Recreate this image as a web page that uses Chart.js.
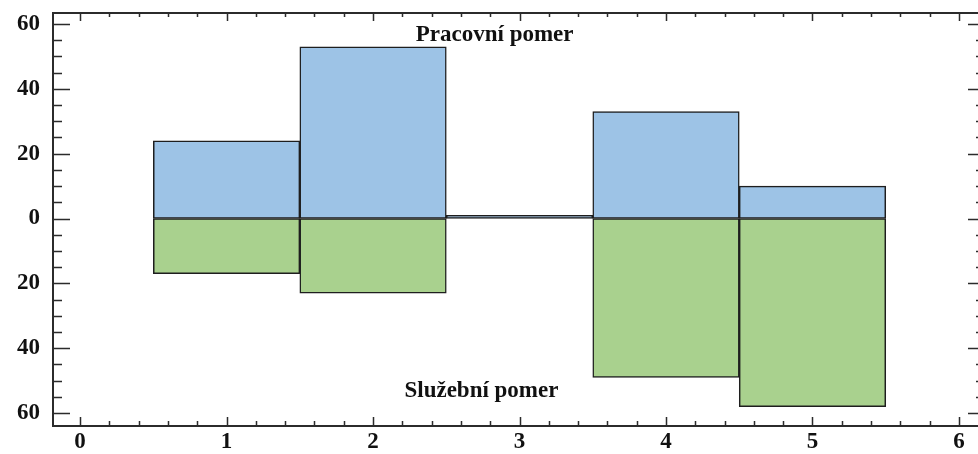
<!DOCTYPE html>
<html>
<head>
<meta charset="utf-8">
<script src="https://cdn.jsdelivr.net/npm/chart.js@4.4.1/dist/chart.umd.min.js"></script>
<style>
  html, body { margin: 0; padding: 0; background: #fff; }
  #wrap { width: 978px; height: 454px; position: relative; }
</style>
</head>
<body>
<div id="wrap"><canvas id="histChart"></canvas></div>
<script>
// categories on the x axis (bar centres)
const categories = [1, 2, 3, 4, 5];
// upper series (positive)
const pracovni = [24, 53, 1, 33, 10];
// lower series (drawn below zero, labelled as absolute values)
const sluzebni = [17, 23, 0, 49, 58];
const xTicks = [0, 1, 2, 3, 4, 5, 6];
const yTicks = [-60, -40, -20, 0, 20, 40, 60];

const serif = '"Liberation Serif", "DejaVu Serif", serif';
const frameColor = '#2b2b2b';

// inward tick marks + top frame line, like the original plotting tool
const framePlugin = {
    id: 'frame',
    afterDraw(chart) {
        const { ctx, chartArea: a, scales } = chart;
        const x = scales.x, y = scales.y;
        ctx.save();
        ctx.strokeStyle = frameColor;
        ctx.lineWidth = 2;
        ctx.beginPath();
        ctx.moveTo(a.left, a.top);
        ctx.lineTo(a.right, a.top);
        ctx.stroke();

        ctx.lineWidth = 1.5;
        ctx.beginPath();
        for (let i = 0; i <= 30; i++) {
            const px = Math.round(x.getPixelForValue(i / 5)) + 0.5;
            const major = i % 5 === 0;
            ctx.moveTo(px, a.bottom);
            ctx.lineTo(px, a.bottom - (major ? 9 : 5));
            ctx.moveTo(px, a.top);
            ctx.lineTo(px, a.top + (major ? 8 : 4));
        }
        for (let v = -60; v <= 60; v += 5) {
            const py = Math.round(y.getPixelForValue(v)) + 0.5;
            const major = v % 20 === 0;
            ctx.moveTo(a.left, py);
            ctx.lineTo(a.left + (major ? 17 : 9), py);
            ctx.moveTo(a.right, py);
            ctx.lineTo(a.right - (major ? 10 : 2), py);
        }
        ctx.stroke();

        // series labels inside the plot
        ctx.fillStyle = '#111';
        ctx.font = 'bold 23px ' + serif;
        ctx.textAlign = 'center';
        ctx.textBaseline = 'middle';
        ctx.fillText('Pracovní pomer', x.getPixelForValue(2.83), y.getPixelForValue(56.5));
        ctx.fillText('Služební pomer', x.getPixelForValue(2.74), y.getPixelForValue(-53.3));
        ctx.restore();
    }
};

const ctx = document.getElementById('histChart');

new Chart(ctx, {
    type: 'bar',
    data: {
        datasets: [
            {
                label: 'Pracovní pomer',
                data: categories.map((c, i) => ({ x: c, y: pracovni[i] })),
                backgroundColor: '#9dc3e6',
                borderColor: '#1e1e1e',
                borderWidth: 1.5,
                borderSkipped: false,
                barPercentage: 1,
                categoryPercentage: 1,
                grouped: false
            },
            {
                label: 'Služební pomer',
                data: categories.map((c, i) => ({ x: c, y: -sluzebni[i] })),
                backgroundColor: '#a9d18e',
                borderColor: '#1e1e1e',
                borderWidth: 1.5,
                borderSkipped: false,
                barPercentage: 1,
                categoryPercentage: 1,
                grouped: false
            }
        ]
    },
    options: {
        responsive: true,
        maintainAspectRatio: false,
        animation: false,
        layout: { padding: { top: 13, right: 0, left: 0, bottom: 0 } },
        plugins: {
            legend: { display: false },
            tooltip: { enabled: false }
        },
        scales: {
            x: {
                type: 'linear',
                offset: false,
                min: -0.185,
                max: 6.13,
                afterFit(scale) { scale.height = 28; },
                afterBuildTicks(scale) {
                    scale.ticks = xTicks.map(v => ({ value: v }));
                },
                ticks: {
                    color: '#111',
                    padding: 2,
                    maxRotation: 0,
                    font: { family: serif, size: 23, weight: 'bold' },
                    callback: v => String(v)
                },
                grid: { display: false, drawTicks: false, offset: false },
                border: { display: true, color: frameColor, width: 2 }
            },
            y: {
                min: -64,
                max: 63.4,
                afterFit(scale) {
                    scale.width = 53;
                    scale.paddingTop = 0;
                    scale.paddingBottom = 0;
                },
                afterBuildTicks(scale) {
                    scale.ticks = yTicks.map(v => ({ value: v }));
                },
                ticks: {
                    color: '#111',
                    padding: 13,
                    font: { family: serif, size: 23, weight: 'bold' },
                    callback: v => String(Math.abs(v))
                },
                grid: { display: false, drawTicks: false },
                border: { display: true, color: frameColor, width: 2 }
            }
        }
    },
    plugins: [framePlugin]
});
</script>
</body>
</html>
